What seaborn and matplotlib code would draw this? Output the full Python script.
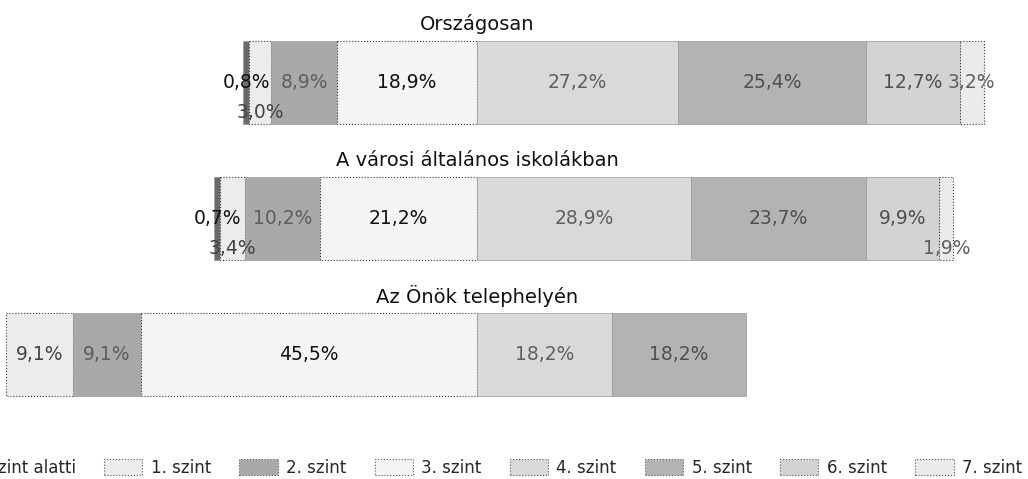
import matplotlib
matplotlib.use("Agg")
import matplotlib.pyplot as plt
import numpy as np
import pandas as pd
import seaborn as sns
from matplotlib.patches import Patch

# Kompetenciaszintek megoszlása (%)
groups = ["Országosan", "A városi általános iskolákban", "Az Önök telephelyén"]
levels = ["1. szint alatti", "1. szint", "2. szint", "3. szint",
          "4. szint", "5. szint", "6. szint", "7. szint"]

orszagosan = [0.8, 3.0, 8.9, 18.9, 27.2, 25.4, 12.7, 3.2]
varosi = [0.7, 3.4, 10.2, 21.2, 28.9, 23.7, 9.9, 1.9]
telephely = [0.0, 9.1, 9.1, 45.5, 18.2, 18.2, 0.0, 0.0]

level_colors = ["#6a6a6a", "#ececec", "#a9a9a9", "#f4f4f4",
                "#d9d9d9", "#b3b3b3", "#d3d3d3", "#ebebeb"]
label_colors = ["#111111", "#444444", "#5e5e5e", "#111111",
                "#606060", "#505050", "#505050", "#606060"]
light_levels = {"1. szint", "3. szint", "7. szint"}
low_labels = {("Országosan", "1. szint"),
              ("A városi általános iskolákban", "1. szint"),
              ("A városi általános iskolákban", "7. szint")}

sns.set_theme(style="white")
plt.rcParams["font.family"] = ["DejaVu Sans"]

rows = []
for g, vals in zip(groups, [orszagosan, varosi, telephely]):
    # the bars diverge at the 3./4. szint boundary
    start = -sum(vals[:4])
    for lvl, v in zip(levels, vals):
        rows.append({"group": g, "level": lvl, "value": v, "left": start})
        start += v
df = pd.DataFrame(rows)

fig = plt.figure(figsize=(10.28, 4.79), dpi=100)
ax = fig.add_axes([0, 0.117, 1, 0.852])

for lvl, col in zip(levels, level_colors):
    sub = df[df["level"] == lvl].set_index("group").loc[groups].reset_index()
    n_before = len(ax.patches)
    light = lvl in light_levels
    sns.barplot(data=sub, x="value", y="group", order=groups, orient="h",
                left=sub["left"].to_numpy(), color=col, saturation=1,
                width=0.61, errorbar=None, ax=ax,
                edgecolor="#3a3a3a" if light else "#9a9a9a",
                linewidth=0.8 if light else 0.5,
                linestyle=":" if light else "-")
    for p in ax.patches[n_before:]:
        if p.get_width() == 0:
            p.set_visible(False)

for i, g in enumerate(groups):
    ax.text(0, i - 0.43, g, ha="center", va="center", fontsize=14, color="#111111")

for _, r in df.iterrows():
    if r["value"] <= 0:
        continue
    i = groups.index(r["group"])
    dy = 0.22 if (r["group"], r["level"]) in low_labels else 0.0
    txt = f"{r['value']:.1f}%".replace(".", ",")
    ax.text(r["left"] + r["value"] / 2, i + dy, txt, ha="center", va="center",
            fontsize=13.5, color=label_colors[levels.index(r["level"])])

ax.set_xlim(-64.5, 74.5)
ax.set_ylim(2.5, -0.5)
ax.set_axis_off()

handles = [Patch(facecolor=c, edgecolor="#555555", linestyle=":", linewidth=0.8)
           for c in level_colors]
fig.legend(handles, levels, loc="center right", bbox_to_anchor=(1022 / 1028, 0.023),
           ncol=8, frameon=False, fontsize=12, handlelength=2.3, handleheight=1.1,
           handletextpad=0.5, columnspacing=1.7, borderpad=0, borderaxespad=0)

fig.savefig("out.png", dpi=100)
